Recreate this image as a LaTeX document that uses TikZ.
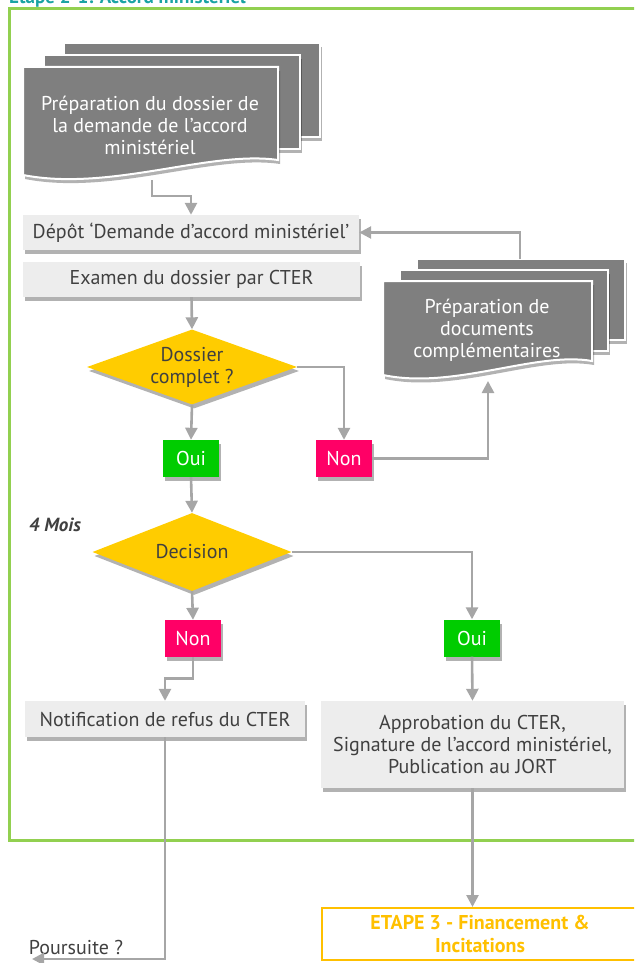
\documentclass[tikz,border=0pt]{standalone}
\usepackage{fontspec}
\setmainfont{PT Sans}
\usetikzlibrary{shapes.geometric,shadows,arrows.meta}

\definecolor{docgray}{HTML}{7F7F7F}
\definecolor{boxgray}{HTML}{EDEDED}
\definecolor{txtgray}{HTML}{404040}
\definecolor{lingray}{HTML}{A6A6A6}
\definecolor{diamyel}{HTML}{FFCC00}
\definecolor{ouigreen}{HTML}{00CC00}
\definecolor{nonpink}{HTML}{FF0066}
\definecolor{framegreen}{HTML}{92D050}
\definecolor{titleteal}{HTML}{1AA3A3}
\definecolor{etapegold}{HTML}{FFC000}

\begin{document}
\begin{tikzpicture}[x=1pt, y=-1pt,
  every node/.style={font=\fontsize{20}{22}\selectfont, text=txtgray, align=center, inner sep=0pt},
  dropsh/.style={drop shadow={shadow xshift=2pt,shadow yshift=-4pt,opacity=.3,fill=black}},
  sheet/.style={fill=docgray,draw=white,line width=2pt,dropsh},
  doctext/.style={text=white},
  stepbox/.style={fill=boxgray,dropsh,minimum height=35pt},
  decide/.style={diamond,fill=diamyel,dropsh,aspect=2.8},
  ouibox/.style={fill=ouigreen,text=white,minimum width=56pt,minimum height=37pt,dropsh},
  nonbox/.style={fill=nonpink,text=white,minimum width=56pt,minimum height=37pt,dropsh},
  conn/.style={draw=lingray,line width=2.6pt,->,>={Triangle[width=12pt,length=12pt]}}]

  \useasboundingbox (0,0) rectangle (634,963);
  \clip (0,0) rectangle (634,963);

  % Frame
  \draw[framegreen,line width=3pt] (9,9) rectangle (650,840);
  \node[anchor=base west,text=titleteal,font=\bfseries\fontsize{19}{22}\selectfont] (titre) at (9,4)
    {Etape 2-1: Accord ministériel};

  % Left document stack
  \foreach \k in {2,1}{
    \path[sheet] (23+20.5*\k,67-12*\k) rectangle ++(256,94);
  }
  \path[sheet] (23,67) -- (278,67) -- (278,160)
    .. controls +(-68,-10) and +(87,17) .. (23,175) -- cycle;
  \node[doctext] (prepdoss) at (150,125)
    {Préparation du dossier de\\la demande de l’accord\\ministériel};
  \coordinate (prepout) at (152,180);

  % Right document stack
  \foreach \k in {2,1}{
    \path[sheet] (383+17*\k,281-11*\k) rectangle ++(208,81);
  }
  \path[sheet] (383,281) -- (592,281) -- (592,361)
    .. controls +(-56,-10) and +(71,15) .. (383,375) -- cycle;
  \node[doctext] (prepcomp) at (487,330)
    {Préparation de\\documents\\complémentaires};
  \coordinate (compout) at (488,381);
  \coordinate (compin) at (520,259);

  % Steps
  \node[stepbox,minimum width=336pt] (depot) at (191,232.5)
    {Dépôt ‘Demande d’accord ministériel’};
  \node[stepbox,minimum width=337pt] (examen) at (191.5,279.5)
    {Examen du dossier par CTER};
  \node[decide,minimum width=210pt,minimum height=75pt] (complet) at (192,367)
    {Dossier\\complet ?};
  \node[ouibox] (oui1) at (191,458.5) {Oui};
  \node[nonbox] (non1) at (344,458.5) {Non};
  \node[font=\bfseries\itshape\fontsize{19}{22}\selectfont] (delai) at (55,525) {4 Mois};
  \node[decide,minimum width=199pt,minimum height=78pt] (decision) at (192,552) {Decision};
  \node[nonbox] (non2) at (193,638.5) {Non};
  \node[ouibox] (oui2) at (472,638) {Oui};
  \node[stepbox,minimum width=280pt,minimum height=36pt] (refus) at (165,719)
    {Notification de refus du CTER};
  \node[stepbox,minimum width=303pt,minimum height=87pt] (approb) at (472.5,744.5)
    {Approbation du CTER,\\Signature de l’accord ministériel,\\Publication au JORT};
  \node[draw=etapegold,line width=2pt,text=etapegold,font=\bfseries\fontsize{20}{23}\selectfont,
    minimum width=316pt,minimum height=52pt] (etape) at (480,934)
    {ETAPE 3 - Financement \&\\Incitations};
  \node (suite) at (76,947) {Poursuite ?};
  \coordinate (suiteout) at (32,959);

  % Connectors
  \draw[conn] (prepout) -- ++(0,16) -| (depot.north);
  \draw[conn] (examen.south) -- (complet.north);
  \draw[conn] (complet.south) -- (oui1.north);
  \draw[conn] (complet.east) -| (non1.north);
  \draw[conn] (non1.east) -| (compout);
  \draw[conn] (compin) |- (depot.east);
  \draw[conn] (oui1.south) -- (decision.north);
  \draw[conn] (decision.south) -- (non2.north);
  \draw[conn] (decision.east) -| (oui2.north);
  \draw[conn] (non2.south) -- ++(0,21) -| (refus.north);
  \draw[conn] (oui2.south) -- (approb.north);
  \draw[conn] (refus.south) |- (suiteout);
  \draw[conn] (approb.south) -- (approb.south |- etape.north);
\end{tikzpicture}
\end{document}
